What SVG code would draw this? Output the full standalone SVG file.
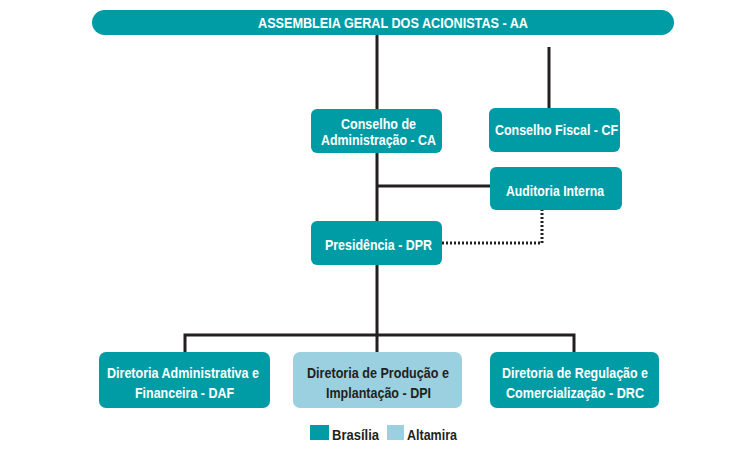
<svg xmlns="http://www.w3.org/2000/svg" width="742" height="450" viewBox="0 0 742 450">
<style>
.t{font-family:"Liberation Sans",Arial,sans-serif;font-weight:bold;font-size:15px;text-anchor:middle;fill:#fff}
.d{fill:#231f20}
.box{fill:#009ca6}
.lb{fill:#9bd0e0}
.ln{stroke:#231f20;stroke-width:3;fill:none}
.dot{stroke:#231f20;stroke-width:3;fill:none;stroke-dasharray:2 2}
</style>
<rect width="742" height="450" fill="#fff"/>
<g id="connectors">
<path class="ln" d="M377 35V352M377 186H490M549 47V108M185 352V335H574V352"/>
<path class="dot" d="M442 243H542V210"/>
</g>
<g id="aa"><rect class="box" x="92" y="10" width="582" height="25" rx="12.5"/><text class="t" x="393" y="27.5" style="font-size:14px" textLength="270" lengthAdjust="spacingAndGlyphs">ASSEMBLEIA GERAL DOS ACIONISTAS - AA</text></g>
<g id="ca"><rect class="box" x="311" y="109" width="131" height="44" rx="6"/><text class="t" x="378.5" y="129" textLength="75" lengthAdjust="spacingAndGlyphs">Conselho de</text><text class="t" x="378.5" y="145" textLength="115" lengthAdjust="spacingAndGlyphs">Administração - CA</text></g>
<g id="cf"><rect class="box" x="489" y="108" width="131" height="44" rx="6"/><text class="t" x="556.5" y="135" textLength="123" lengthAdjust="spacingAndGlyphs">Conselho Fiscal - CF</text></g>
<g id="ai"><rect class="box" x="490" y="167" width="132" height="43" rx="6"/><text class="t" x="555" y="196" textLength="98" lengthAdjust="spacingAndGlyphs">Auditoria Interna</text></g>
<g id="dpr"><rect class="box" x="311" y="221" width="131" height="44" rx="6"/><text class="t" x="378.5" y="250" textLength="107" lengthAdjust="spacingAndGlyphs">Presidência - DPR</text></g>
<g id="daf"><rect class="box" x="99" y="352" width="171" height="56" rx="7"/><text class="t" x="183" y="378" textLength="152" lengthAdjust="spacingAndGlyphs">Diretoria Administrativa e</text><text class="t" x="184.5" y="398" textLength="99" lengthAdjust="spacingAndGlyphs">Financeira - DAF</text></g>
<g id="dpi"><rect class="lb" x="293" y="352" width="169" height="56" rx="7"/><text class="t d" x="378" y="378" textLength="142" lengthAdjust="spacingAndGlyphs">Diretoria de Produção e</text><text class="t d" x="378.5" y="398" textLength="105" lengthAdjust="spacingAndGlyphs">Implantação - DPI</text></g>
<g id="drc"><rect class="box" x="490" y="352" width="169" height="56" rx="7"/><text class="t" x="575" y="378" textLength="146" lengthAdjust="spacingAndGlyphs">Diretoria de Regulação e</text><text class="t" x="575" y="398" textLength="138" lengthAdjust="spacingAndGlyphs">Comercialização - DRC</text></g>
<g id="legend">
<rect class="box" x="310" y="425" width="19" height="15"/><text class="t d" x="332" y="440" style="text-anchor:start" textLength="47" lengthAdjust="spacingAndGlyphs">Brasília</text>
<rect class="lb" x="387" y="425" width="17" height="15"/><text class="t d" x="407" y="440" style="text-anchor:start" textLength="50" lengthAdjust="spacingAndGlyphs">Altamira</text>
</g>
</svg>
